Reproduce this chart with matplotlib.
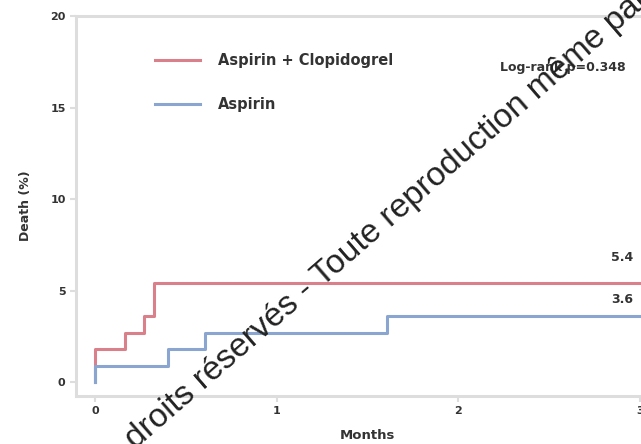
import matplotlib
matplotlib.use("Agg")
import matplotlib.pyplot as plt

# Data
dual_times = [0.0, 0.0, 0.165, 0.27, 0.325, 3.2]
dual_values = [0.0, 1.8, 2.7, 3.6, 5.4, 5.4]
asp_times = [0.0, 0.0, 0.40, 0.605, 1.61, 3.2]
asp_values = [0.0, 0.9, 1.8, 2.7, 3.6, 3.6]
series_labels = ["Aspirin + Clopidogrel", "Aspirin"]
end_labels = ["5.4", "3.6"]
x_ticks = [0, 1, 2, 3]
y_ticks = [0, 5, 10, 15, 20]
pvalue_text = "Log-rank p=0.348"

RED = "#d9808a"
BLUE = "#8aa5cf"
TXT = "#333333"
SPINE = "#dddddd"

plt.rcParams["font.family"] = ["DejaVu Sans"]
fig = plt.figure(figsize=(6.41, 4.44), dpi=100)
ax = fig.add_axes([0.1186, 0.108, 0.908, 0.856])

ax.step(dual_times, dual_values, where="post", color=RED, lw=2.2, label=series_labels[0])
ax.step(asp_times, asp_values, where="post", color=BLUE, lw=2.2, label=series_labels[1])

ax.set_xlim(-0.105, 3.1)
ax.set_ylim(-0.75, 20)
ax.set_xticks(x_ticks)
ax.set_yticks(y_ticks)
for s in ["left", "bottom", "top", "right"]:
    ax.spines[s].set_color(SPINE)
    ax.spines[s].set_linewidth(2.2)
ax.tick_params(colors=SPINE, labelcolor=TXT, labelsize=8, length=4, width=1.5)
for lab in ax.get_xticklabels() + ax.get_yticklabels():
    lab.set_fontweight("bold")

ax.set_xlabel("Months", fontsize=9.5, fontweight="bold", color=TXT, labelpad=9)
ax.set_ylabel("Death (%)", fontsize=9, fontweight="bold", color=TXT, labelpad=13)

leg = ax.legend(loc="upper left", bbox_to_anchor=(155 / 641, 1 - 53 / 444),
                bbox_transform=fig.transFigure, frameon=False,
                borderpad=0, borderaxespad=0,
                handlelength=3.1, handletextpad=1.2, labelspacing=2.0,
                prop={"size": 10.5, "weight": "bold"})
for t in leg.get_texts():
    t.set_color(TXT)

ax.text(2.23, 17.2, pvalue_text, fontsize=9, fontweight="bold", color=TXT, va="center")
ax.text(2.84, 6.8, end_labels[0], fontsize=9, fontweight="bold", color=TXT, va="center")
ax.text(2.84, 4.5, end_labels[1], fontsize=9, fontweight="bold", color=TXT, va="center")

# Watermark
fig.text(135 / 641, 1 - 450 / 444, "droits réservés - Toute reproduction même partielle interdite",
         rotation=41, rotation_mode="anchor", ha="left", va="baseline",
         fontsize=24, family="Liberation Sans", color="#222222")

fig.savefig("out.png", dpi=100)
